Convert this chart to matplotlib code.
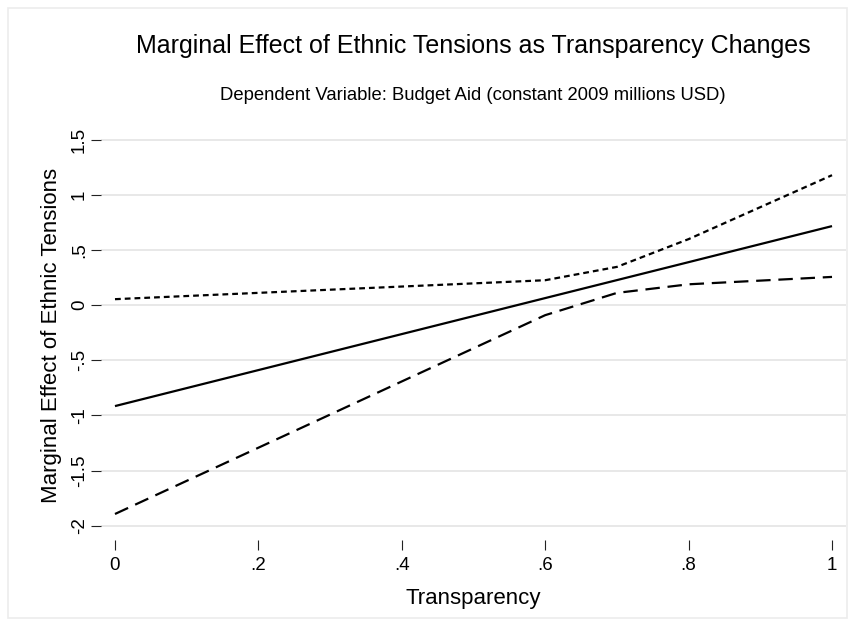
import matplotlib
matplotlib.use('Agg')
import matplotlib.pyplot as plt
from matplotlib.patches import Rectangle

plt.rcParams['font.family'] = ['Liberation Sans', 'DejaVu Sans']

# values
transparency = [0, 0.6, 0.7, 0.8, 1.0]
marginal_effect = [-0.915, 0.065, 0.228, 0.391, 0.718]
upper_ci = [0.055, 0.227, 0.348, 0.60, 1.18]
lower_ci = [-1.894, -0.09, 0.112, 0.19, 0.257]

x_ticks = [0, 0.2, 0.4, 0.6, 0.8, 1.0]
x_labels = ['0', '.2', '.4', '.6', '.8', '1']
y_ticks = [-2, -1.5, -1, -0.5, 0, 0.5, 1, 1.5]
y_labels = ['-2', '-1.5', '-1', '-.5', '0', '.5', '1', '1.5']

W, H = 855, 626
fig = plt.figure(figsize=(W / 100, H / 100), dpi=100)
fig.patches.append(Rectangle((8 / W, 8 / H), 839 / W, 610 / H, transform=fig.transFigure,
                             fill=False, edgecolor='#ececec', lw=1.2))

ax = fig.add_axes([101 / W, 1 - 540 / H, 745 / W, 410 / H])
for s in ax.spines.values():
    s.set_visible(False)

ax.plot(transparency, marginal_effect, color='black', lw=1.6, solid_capstyle='butt')
ax.plot(transparency, upper_ci, color='black', lw=1.6, linestyle=(0, (2.6, 1.8)))
ax.plot(transparency, lower_ci, color='black', lw=1.6, linestyle=(0, (6.5, 3.5)))

ax.set_xlim(-0.0195, 1.0195)
ax.set_ylim(-2.13, 1.59)
ax.set_xticks(x_ticks, x_labels, fontsize=13.5)
ax.set_yticks(y_ticks, y_labels, fontsize=13.5, rotation=90, va='center')
ax.tick_params(axis='x', length=7, width=0.8, color='#222222', pad=5)
ax.tick_params(axis='y', length=7, width=0.8, color='#222222', pad=2.5)
ax.grid(axis='y', color='#e8e8e8', lw=1.4)
ax.set_axisbelow(True)

ax.set_xlabel('Transparency', fontsize=16, labelpad=10)
ax.set_ylabel('Marginal Effect of Ethnic Tensions', fontsize=16, labelpad=6)

fig.text(473 / W, 1 - 46 / H, 'Marginal Effect of Ethnic Tensions as Transparency Changes',
         ha='center', va='center', fontsize=18)
fig.text(473 / W, 1 - 96 / H, 'Dependent Variable: Budget Aid (constant 2009 millions USD)',
         ha='center', va='center', fontsize=13.3)

fig.savefig('out.png', dpi=100)
